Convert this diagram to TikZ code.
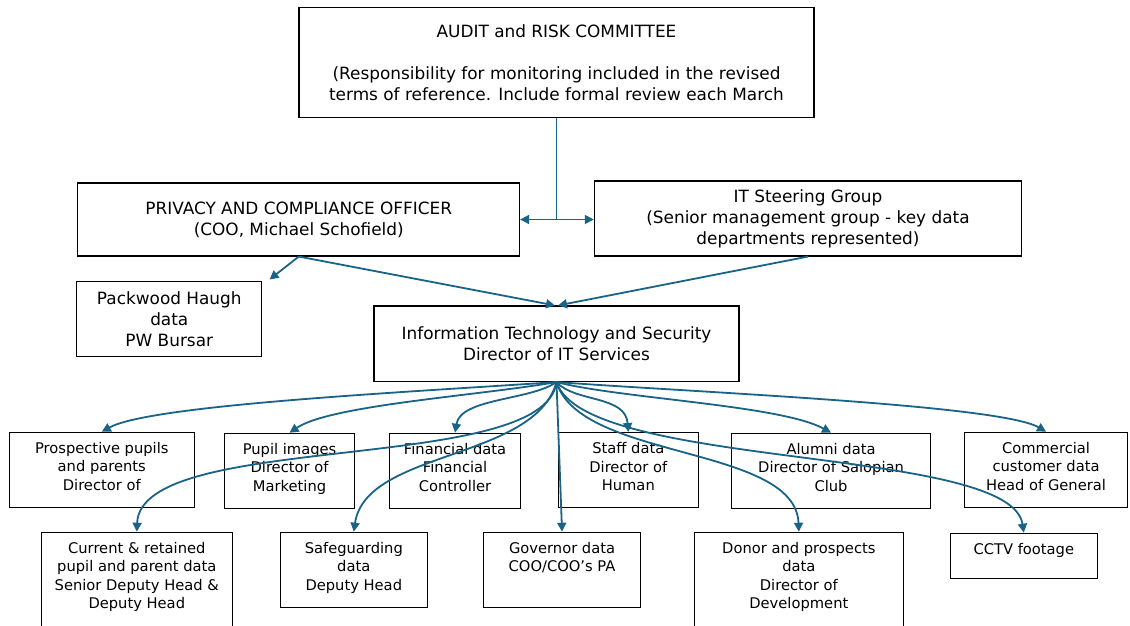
\documentclass[tikz,border=0pt]{standalone}
\usepackage{fontspec}
\setmainfont{DejaVu Sans}
\usetikzlibrary{arrows.meta,calc}
\definecolor{linkblue}{RGB}{25,99,134}
\newcommand\rowtext[3]{\parbox[c][#2][t]{#1}{\centering\vspace*{8.5pt}\strut #3}}
\tikzset{
  bigbox/.style={draw, line width=1.1pt, fill=white, align=center, inner sep=0pt,
    font=\fontsize{16.9}{21}\selectfont},
  rowbox/.style={draw, line width=1.1pt, fill=white, inner sep=0pt, anchor=north west,
    font=\fontsize{14.7}{18.3}\selectfont},
  linkline/.style={draw=linkblue, line width=1.8pt},
  link/.style={linkline, -{Triangle[length=9pt,width=9pt]}},
}
\begin{document}
\begin{tikzpicture}[x=1pt,y=-1pt]
\useasboundingbox (0,0) rectangle (1130,625);
% upper boxes
\node[bigbox, minimum width=515pt, minimum height=110pt] (audit) at (556.5,62.2)
  {AUDIT and RISK COMMITTEE\\[21pt](Responsibility for monitoring included in the revised\\terms of reference. Include formal review each March};
\node[bigbox, minimum width=441.7pt, minimum height=73pt] (privacy) at (298.75,219.5)
  {PRIVACY AND COMPLIANCE OFFICER\\(COO, Michael Schofield)};
\node[bigbox, minimum width=427.4pt, minimum height=75pt] (steer) at (808,218.5)
  {IT Steering Group\\(Senior management group - key data\\departments represented)};
\node[bigbox, minimum width=185pt, minimum height=74.3pt] (pack) at (169.3,318.9)
  {Packwood Haugh\\data\\PW Bursar};
\node[bigbox, minimum width=365pt, minimum height=75.5pt] (it) at (556.5,343.75)
  {Information Technology and Security\\Director of IT Services};
% first row
\node[rowbox] (pros) at (9,431.7) {\rowtext{184.5pt}{75pt}{Prospective pupils\\and parents\\Director of}};
\node[rowbox] (pupil) at (224,432.7) {\rowtext{130pt}{75pt}{Pupil images\\Director of\\Marketing}};
\node[rowbox] (fin) at (389,432.7) {\rowtext{131pt}{75pt}{Financial data\\Financial\\Controller}};
\node[rowbox] (staff) at (558,432) {\rowtext{139.5pt}{75pt}{Staff data\\Director of\\Human}};
\node[rowbox] (alumni) at (731,432.7) {\rowtext{199pt}{75pt}{Alumni data\\Director of Salopian\\Club}};
\node[rowbox] (comm) at (964,431.7) {\rowtext{163pt}{75pt}{Commercial\\customer data\\Head of General}};
% second row
\node[rowbox] (current) at (40.5,531.7) {\rowtext{191.5pt}{100pt}{Current \& retained\\pupil and parent data\\Senior Deputy Head \&\\Deputy Head}};
\node[rowbox] (safe) at (280,531.7) {\rowtext{146.5pt}{75pt}{Safeguarding\\data\\Deputy Head}};
\node[rowbox] (gov) at (483,531.7) {\rowtext{157pt}{75pt}{Governor data\\COO/COO's PA}};
\node[rowbox] (donor) at (694,531.7) {\rowtext{208.6pt}{100pt}{Donor and prospects\\data\\Director of\\Development}};
\node[rowbox] (cctv) at (950,532.7) {\rowtext{146.5pt}{45pt}{CCTV footage}};
% upper connectors
\coordinate (j) at (audit.south |- privacy.east);
\draw[linkline] (audit.south) -- (j);
\draw[link] (j) -- (privacy.east);
\draw[link] (j) -- (j -| steer.west);
\draw[link] (privacy.south) -- ([shift={(7.2,-1.7)}]pack.north east);
\draw[link] (privacy.south) -- ([xshift=-1.5pt]it.north);
\draw[link] (steer.south) -- ([xshift=1.5pt]it.north);
% fan from IT
\draw[link] (it.south) .. controls +(-156.5,10.5) and +(48.25,-26.7) .. (pros.north);
\draw[link] (it.south) .. controls +(-76.5,13.5) and +(41,-27.7) .. (pupil.north);
\draw[link] (it.south) .. controls +(-26.5,18.5) and +(5.5,-34.7) .. (fin.north);
\draw[link] (it.south) .. controls +(18.5,20.5) and +(-2.75,-37) .. (staff.north);
\draw[link] (it.south) .. controls +(63.5,16.5) and +(-50.5,-27.7) .. (alumni.north);
\draw[link] (it.south) .. controls +(143.5,10.5) and +(-45.5,-26.7) .. (comm.north);
\draw[link] (it.south) .. controls +(-11.5,93.5) and +(3.75,-101.7) .. (current.north);
\draw[link] (it.south) .. controls +(-21.5,78.5) and +(11.75,-81.7) .. (safe.north);
\draw[link] (it.south) -- (gov.north);
\draw[link] (it.south) .. controls +(23.5,78.5) and +(-3.3,-86.7) .. (donor.north);
\draw[link] (it.south) .. controls +(28.5,88.5) and +(-13.25,-87.7) .. (cctv.north);
\end{tikzpicture}
\end{document}
